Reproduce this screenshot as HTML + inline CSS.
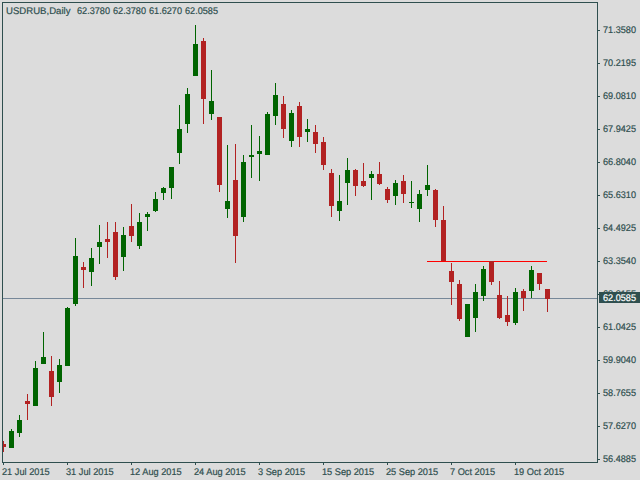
<!DOCTYPE html>
<html><head><meta charset="utf-8"><style>
html,body{margin:0;padding:0;}
body{width:640px;height:480px;overflow:hidden;background:#dcdcdc;position:relative;}
svg{position:absolute;left:0;top:0;}
.t{position:absolute;font-family:"Liberation Sans",sans-serif;font-size:9.6px;line-height:11px;color:#2f4f4f;white-space:pre;text-rendering:geometricPrecision;transform-origin:0 0;-webkit-text-stroke:0.2px #2f4f4f;}
.s{transform:scaleX(0.95);}
.d{transform:scaleX(0.96);}
.w{color:#ffffff;-webkit-text-stroke:0.2px #ffffff;}
</style></head><body>
<svg width="640" height="480" viewBox="0 0 640 480" shape-rendering="crispEdges">

<rect x="597" y="298" width="1" height="1" fill="#2f4f4f"/>
<rect x="3" y="298" width="594" height="1" fill="#778899"/>
<rect x="3" y="441" width="1" height="11" fill="#b22222"/>
<rect x="3" y="444" width="3" height="3" fill="#b22222"/>
<rect x="11" y="429" width="1" height="19" fill="#006400"/>
<rect x="9" y="431" width="5" height="17" fill="#006400"/>
<rect x="19" y="415" width="1" height="22" fill="#006400"/>
<rect x="17" y="420" width="5" height="13" fill="#006400"/>
<rect x="27" y="394" width="1" height="26" fill="#b22222"/>
<rect x="25" y="401" width="5" height="3" fill="#b22222"/>
<rect x="35" y="361" width="1" height="45" fill="#006400"/>
<rect x="33" y="368" width="5" height="38" fill="#006400"/>
<rect x="43" y="332" width="1" height="32" fill="#006400"/>
<rect x="41" y="357" width="5" height="7" fill="#006400"/>
<rect x="51" y="356" width="1" height="50" fill="#b22222"/>
<rect x="49" y="371" width="5" height="26" fill="#b22222"/>
<rect x="59" y="359" width="1" height="34" fill="#006400"/>
<rect x="57" y="365" width="5" height="17" fill="#006400"/>
<rect x="67" y="307" width="1" height="59" fill="#006400"/>
<rect x="65" y="308" width="5" height="58" fill="#006400"/>
<rect x="75" y="238" width="1" height="68" fill="#006400"/>
<rect x="73" y="256" width="5" height="48" fill="#006400"/>
<rect x="83" y="262" width="1" height="26" fill="#b22222"/>
<rect x="81" y="267" width="5" height="3" fill="#b22222"/>
<rect x="91" y="248" width="1" height="38" fill="#006400"/>
<rect x="89" y="258" width="5" height="14" fill="#006400"/>
<rect x="99" y="225" width="1" height="39" fill="#006400"/>
<rect x="97" y="242" width="5" height="5" fill="#006400"/>
<rect x="107" y="222" width="1" height="36" fill="#b22222"/>
<rect x="105" y="239" width="5" height="3" fill="#b22222"/>
<rect x="115" y="222" width="1" height="58" fill="#b22222"/>
<rect x="113" y="232" width="5" height="45" fill="#b22222"/>
<rect x="123" y="227" width="1" height="44" fill="#006400"/>
<rect x="121" y="235" width="5" height="22" fill="#006400"/>
<rect x="131" y="204" width="1" height="38" fill="#b22222"/>
<rect x="129" y="226" width="5" height="10" fill="#b22222"/>
<rect x="139" y="213" width="1" height="36" fill="#006400"/>
<rect x="137" y="222" width="5" height="24" fill="#006400"/>
<rect x="147" y="212" width="1" height="19" fill="#006400"/>
<rect x="145" y="214" width="5" height="3" fill="#006400"/>
<rect x="155" y="192" width="1" height="20" fill="#006400"/>
<rect x="153" y="199" width="5" height="12" fill="#006400"/>
<rect x="163" y="187" width="1" height="13" fill="#006400"/>
<rect x="161" y="188" width="5" height="5" fill="#006400"/>
<rect x="171" y="167" width="1" height="32" fill="#006400"/>
<rect x="169" y="167" width="5" height="21" fill="#006400"/>
<rect x="179" y="105" width="1" height="59" fill="#006400"/>
<rect x="177" y="129" width="5" height="24" fill="#006400"/>
<rect x="187" y="88" width="1" height="45" fill="#006400"/>
<rect x="185" y="94" width="5" height="30" fill="#006400"/>
<rect x="195" y="25" width="1" height="51" fill="#006400"/>
<rect x="193" y="44" width="5" height="32" fill="#006400"/>
<rect x="203" y="38" width="1" height="86" fill="#b22222"/>
<rect x="201" y="41" width="5" height="58" fill="#b22222"/>
<rect x="211" y="70" width="1" height="50" fill="#006400"/>
<rect x="209" y="101" width="5" height="13" fill="#006400"/>
<rect x="219" y="117" width="1" height="75" fill="#b22222"/>
<rect x="217" y="117" width="5" height="68" fill="#b22222"/>
<rect x="227" y="145" width="1" height="73" fill="#006400"/>
<rect x="225" y="201" width="5" height="8" fill="#006400"/>
<rect x="235" y="144" width="1" height="119" fill="#b22222"/>
<rect x="233" y="180" width="5" height="56" fill="#b22222"/>
<rect x="243" y="155" width="1" height="67" fill="#006400"/>
<rect x="241" y="162" width="5" height="55" fill="#006400"/>
<rect x="251" y="125" width="1" height="53" fill="#006400"/>
<rect x="249" y="155" width="5" height="2" fill="#006400"/>
<rect x="259" y="136" width="1" height="45" fill="#006400"/>
<rect x="257" y="151" width="5" height="3" fill="#006400"/>
<rect x="267" y="112" width="1" height="43" fill="#006400"/>
<rect x="265" y="114" width="5" height="41" fill="#006400"/>
<rect x="275" y="83" width="1" height="42" fill="#006400"/>
<rect x="273" y="95" width="5" height="21" fill="#006400"/>
<rect x="283" y="96" width="1" height="42" fill="#b22222"/>
<rect x="281" y="104" width="5" height="25" fill="#b22222"/>
<rect x="291" y="110" width="1" height="37" fill="#006400"/>
<rect x="289" y="113" width="5" height="28" fill="#006400"/>
<rect x="299" y="102" width="1" height="45" fill="#b22222"/>
<rect x="297" y="106" width="5" height="31" fill="#b22222"/>
<rect x="307" y="119" width="1" height="23" fill="#006400"/>
<rect x="305" y="129" width="5" height="3" fill="#006400"/>
<rect x="315" y="125" width="1" height="28" fill="#b22222"/>
<rect x="313" y="132" width="5" height="12" fill="#b22222"/>
<rect x="323" y="137" width="1" height="33" fill="#b22222"/>
<rect x="321" y="142" width="5" height="23" fill="#b22222"/>
<rect x="331" y="169" width="1" height="48" fill="#b22222"/>
<rect x="329" y="173" width="5" height="33" fill="#b22222"/>
<rect x="339" y="175" width="1" height="46" fill="#006400"/>
<rect x="337" y="201" width="5" height="10" fill="#006400"/>
<rect x="347" y="158" width="1" height="47" fill="#006400"/>
<rect x="345" y="170" width="5" height="13" fill="#006400"/>
<rect x="355" y="169" width="1" height="27" fill="#b22222"/>
<rect x="353" y="170" width="5" height="16" fill="#b22222"/>
<rect x="363" y="163" width="1" height="24" fill="#b22222"/>
<rect x="361" y="181" width="5" height="5" fill="#b22222"/>
<rect x="371" y="171" width="1" height="29" fill="#006400"/>
<rect x="369" y="174" width="5" height="4" fill="#006400"/>
<rect x="379" y="162" width="1" height="23" fill="#b22222"/>
<rect x="377" y="174" width="5" height="10" fill="#b22222"/>
<rect x="387" y="187" width="1" height="16" fill="#b22222"/>
<rect x="385" y="189" width="5" height="11" fill="#b22222"/>
<rect x="395" y="180" width="1" height="25" fill="#006400"/>
<rect x="393" y="183" width="5" height="13" fill="#006400"/>
<rect x="403" y="175" width="1" height="28" fill="#b22222"/>
<rect x="401" y="181" width="5" height="13" fill="#b22222"/>
<rect x="411" y="181" width="1" height="27" fill="#006400"/>
<rect x="409" y="202" width="5" height="1" fill="#006400"/>
<rect x="419" y="190" width="1" height="32" fill="#006400"/>
<rect x="417" y="194" width="5" height="15" fill="#006400"/>
<rect x="427" y="165" width="1" height="31" fill="#006400"/>
<rect x="425" y="185" width="5" height="5" fill="#006400"/>
<rect x="435" y="189" width="1" height="38" fill="#b22222"/>
<rect x="433" y="190" width="5" height="30" fill="#b22222"/>
<rect x="443" y="206" width="1" height="56" fill="#b22222"/>
<rect x="441" y="220" width="5" height="42" fill="#b22222"/>
<rect x="451" y="263" width="1" height="42" fill="#b22222"/>
<rect x="449" y="271" width="5" height="11" fill="#b22222"/>
<rect x="459" y="280" width="1" height="41" fill="#b22222"/>
<rect x="457" y="284" width="5" height="35" fill="#b22222"/>
<rect x="467" y="304" width="1" height="33" fill="#006400"/>
<rect x="465" y="304" width="5" height="33" fill="#006400"/>
<rect x="475" y="284" width="1" height="48" fill="#006400"/>
<rect x="473" y="292" width="5" height="26" fill="#006400"/>
<rect x="483" y="266" width="1" height="35" fill="#006400"/>
<rect x="481" y="269" width="5" height="27" fill="#006400"/>
<rect x="491" y="261" width="1" height="24" fill="#b22222"/>
<rect x="489" y="261" width="5" height="21" fill="#b22222"/>
<rect x="499" y="281" width="1" height="38" fill="#b22222"/>
<rect x="497" y="295" width="5" height="23" fill="#b22222"/>
<rect x="507" y="296" width="1" height="30" fill="#b22222"/>
<rect x="505" y="315" width="5" height="7" fill="#b22222"/>
<rect x="515" y="288" width="1" height="37" fill="#006400"/>
<rect x="513" y="292" width="5" height="31" fill="#006400"/>
<rect x="523" y="289" width="1" height="22" fill="#b22222"/>
<rect x="521" y="291" width="5" height="7" fill="#b22222"/>
<rect x="531" y="266" width="1" height="32" fill="#006400"/>
<rect x="529" y="270" width="5" height="21" fill="#006400"/>
<rect x="539" y="273" width="1" height="17" fill="#b22222"/>
<rect x="537" y="273" width="5" height="11" fill="#b22222"/>
<rect x="547" y="289" width="1" height="23" fill="#b22222"/>
<rect x="545" y="289" width="5" height="10" fill="#b22222"/>
<rect x="427" y="261" width="120" height="1" fill="#ff0000"/>
<rect x="489" y="261" width="5" height="1" fill="#b22222"/>
<rect x="2" y="2" width="596" height="1" fill="#2f4f4f"/>
<rect x="2" y="2" width="1" height="461" fill="#2f4f4f"/>
<rect x="597" y="2" width="1" height="461" fill="#2f4f4f"/>
<rect x="2" y="462" width="596" height="1" fill="#2f4f4f"/>
<rect x="598" y="30" width="2" height="1" fill="#2f4f4f"/><rect x="598" y="63" width="2" height="1" fill="#2f4f4f"/><rect x="598" y="96" width="2" height="1" fill="#2f4f4f"/><rect x="598" y="129" width="2" height="1" fill="#2f4f4f"/><rect x="598" y="162" width="2" height="1" fill="#2f4f4f"/><rect x="598" y="195" width="2" height="1" fill="#2f4f4f"/><rect x="598" y="228" width="2" height="1" fill="#2f4f4f"/><rect x="598" y="261" width="2" height="1" fill="#2f4f4f"/><rect x="598" y="294" width="2" height="1" fill="#2f4f4f"/><rect x="598" y="327" width="2" height="1" fill="#2f4f4f"/><rect x="598" y="360" width="2" height="1" fill="#2f4f4f"/><rect x="598" y="393" width="2" height="1" fill="#2f4f4f"/><rect x="598" y="426" width="2" height="1" fill="#2f4f4f"/><rect x="598" y="459" width="2" height="1" fill="#2f4f4f"/>
<rect x="3" y="463" width="1" height="2" fill="#2f4f4f"/><rect x="67" y="463" width="1" height="2" fill="#2f4f4f"/><rect x="131" y="463" width="1" height="2" fill="#2f4f4f"/><rect x="195" y="463" width="1" height="2" fill="#2f4f4f"/><rect x="259" y="463" width="1" height="2" fill="#2f4f4f"/><rect x="323" y="463" width="1" height="2" fill="#2f4f4f"/><rect x="387" y="463" width="1" height="2" fill="#2f4f4f"/><rect x="451" y="463" width="1" height="2" fill="#2f4f4f"/><rect x="515" y="463" width="1" height="2" fill="#2f4f4f"/>

</svg>
<div class="t" style="left:6px;top:6px">USDRUB,Daily</div>
<div class="t s" style="left:77px;top:6px">62.3780</div>
<div class="t s" style="left:113px;top:6px">62.3780</div>
<div class="t s" style="left:149px;top:6px">61.6270</div>
<div class="t s" style="left:185px;top:6px">62.0585</div>
<div class="t s" style="left:603px;top:25px">71.3580</div><div class="t s" style="left:603px;top:58px">70.2195</div><div class="t s" style="left:603px;top:91px">69.0810</div><div class="t s" style="left:603px;top:124px">67.9425</div><div class="t s" style="left:603px;top:157px">66.8040</div><div class="t s" style="left:603px;top:190px">65.6310</div><div class="t s" style="left:603px;top:223px">64.4925</div><div class="t s" style="left:603px;top:256px">63.3540</div><div class="t s" style="left:603px;top:289px">62.2155</div><div class="t s" style="left:603px;top:322px">61.0425</div><div class="t s" style="left:603px;top:355px">59.9040</div><div class="t s" style="left:603px;top:388px">58.7655</div><div class="t s" style="left:603px;top:421px">57.6270</div><div class="t s" style="left:603px;top:454px">56.4885</div>
<div class="t d" style="left:2px;top:467px">21 Jul 2015</div><div class="t d" style="left:66px;top:467px">31 Jul 2015</div><div class="t d" style="left:130px;top:467px">12 Aug 2015</div><div class="t d" style="left:194px;top:467px">24 Aug 2015</div><div class="t d" style="left:258px;top:467px">3 Sep 2015</div><div class="t d" style="left:322px;top:467px">15 Sep 2015</div><div class="t d" style="left:386px;top:467px">25 Sep 2015</div><div class="t d" style="left:450px;top:467px">7 Oct 2015</div><div class="t d" style="left:514px;top:467px">19 Oct 2015</div>
<div style="position:absolute;left:599px;top:292px;width:41px;height:11px;background:#2f4f4f"></div>
<div class="t s w" style="left:603px;top:293px">62.0585</div>
</body></html>
